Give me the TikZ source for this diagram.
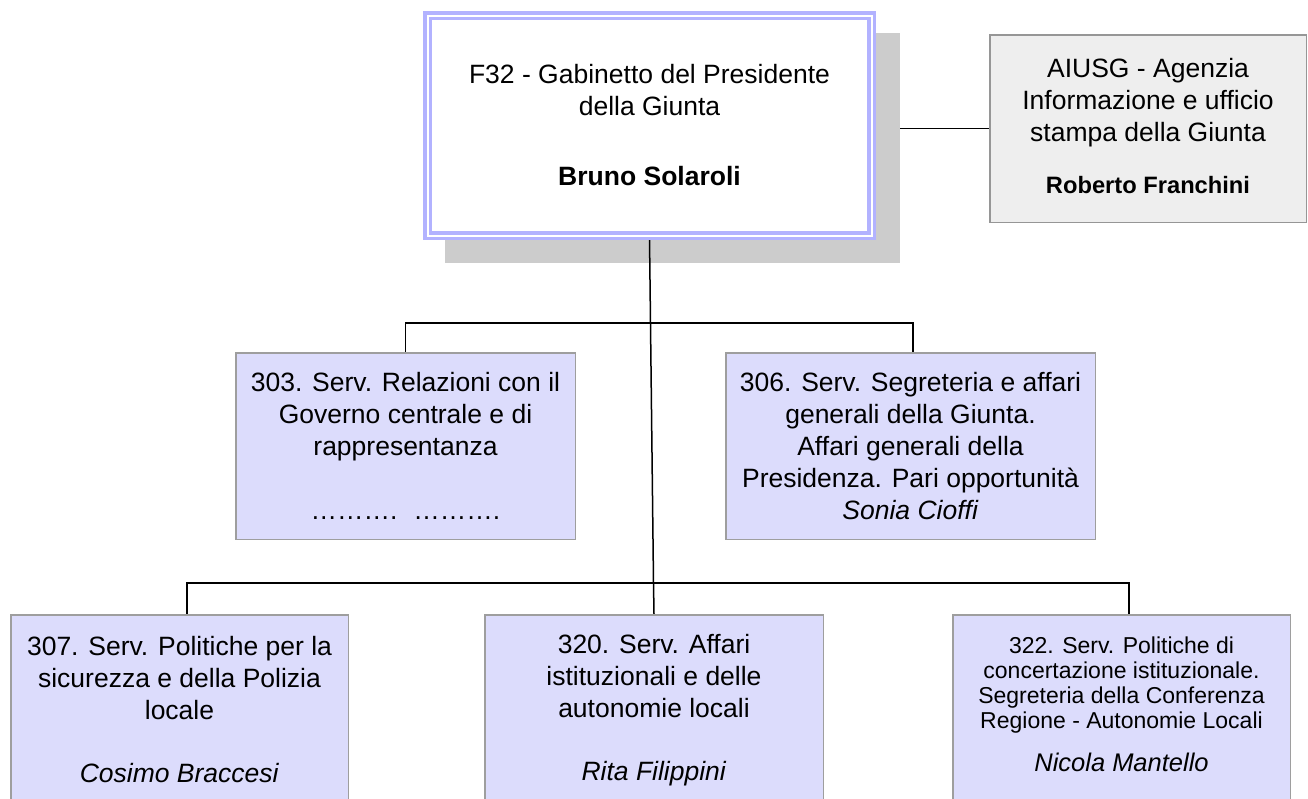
\documentclass[tikz,border=0pt]{standalone}
\usepackage{fontspec}
\setmainfont{Liberation Sans}
\definecolor{svcfill}{RGB}{220,220,252}
\definecolor{svcdraw}{RGB}{158,158,158}
\definecolor{topdraw}{RGB}{178,178,255}
\definecolor{shadowgray}{RGB}{204,204,204}
\definecolor{agfill}{RGB}{238,238,238}
\definecolor{agdraw}{RGB}{150,150,150}
\pgfdeclarelayer{shadowlayer}
\pgfdeclarelayer{wirelayer}
\pgfsetlayers{shadowlayer,wirelayer,main}
\begin{document}
\begin{tikzpicture}[x=1pt,y=-1pt,
  txt/.style={align=center, inner sep=0pt, font=\fontsize{26.5pt}{32pt}\selectfont},
  svc/.style={txt, draw=svcdraw, fill=svcfill, line width=1.5pt},
  wire/.style={draw=black, line width=1.5pt},
]
\useasboundingbox (0,0) rectangle (1308,798);
\begin{pgfonlayer}{shadowlayer}
\node[fill=shadowgray, inner sep=0pt, minimum width=455pt, minimum height=230pt] (shadow) at (672.5,148) {};
\end{pgfonlayer}

\node[txt, draw=topdraw, double=white, double distance=2pt, line width=3.5pt, fill=white,
      minimum width=444pt, minimum height=220pt] (top) at (649.5,125.5)
  {F32 - Gabinetto del Presidente\\della Giunta\\[38pt]\textbf{Bruno Solaroli}};

\node[txt, draw=agdraw, fill=agfill, line width=1.5pt, text depth=6pt,
      minimum width=316.5pt, minimum height=187.5pt] (agency) at (1148,128.5)
  {AIUSG - Agenzia\\Informazione e ufficio\\stampa della Giunta\\[20pt]{\fontsize{23.7pt}{28pt}\selectfont\bfseries Roberto Franchini}};

\node[svc, minimum width=339.5pt, minimum height=186.5pt] (b303) at (405.5,446)
  {303. Serv. Relazioni con il\\Governo centrale e di\\rappresentanza\\[32pt]……….\hspace{16pt}……….};

\node[svc, minimum width=369.5pt, minimum height=186.5pt] (b306) at (910.5,446)
  {306. Serv. Segreteria e affari\\generali della Giunta.\\Affari generali della\\Presidenza. Pari opportunità\\\textit{Sonia Cioffi}};

\node[svc, minimum width=337.5pt, minimum height=190pt] (b307) at (179.5,710)
  {307. Serv. Politiche per la\\sicurezza e della Polizia\\locale\\[31pt]\textit{Cosimo Braccesi}};

\node[svc, minimum width=338.5pt, minimum height=190pt] (b320) at (654,710)
  {320. Serv. Affari\\istituzionali e delle\\autonomie locali\\[31pt]\textit{Rita Filippini}};

\node[svc, minimum width=337.5pt, minimum height=190pt, text depth=12pt,
      font=\fontsize{23pt}{25pt}\selectfont] (b322) at (1121.5,710)
  {322. Serv. Politiche di\\concertazione istituzionale.\\Segreteria della Conferenza\\Regione - Autonomie Locali\\[18pt]{\fontsize{25.5pt}{30pt}\selectfont\itshape Nicola Mantello}};

\coordinate (bus1) at (0,323);
\coordinate (bus2) at (0,583);
\coordinate (trunk) at (653.5,583);
\coordinate (p303) at (b303.north);
\coordinate (p306) at ([xshift=2.5pt]b306.north);
\coordinate (p307) at ([xshift=7.5pt]b307.north);
\coordinate (p322) at ([xshift=7.5pt]b322.north);

\begin{pgfonlayer}{wirelayer}
\draw[wire] (top.south) -- (trunk) -- (b320.north);
\draw[wire] (p303) -- (p303 |- bus1) -- (p306 |- bus1) -- (p306);
\draw[wire] (p307) -- (p307 |- bus2) -- (p322 |- bus2) -- (p322);
\draw[wire] (agency.west) -- (agency.west -| shadow.east);
\end{pgfonlayer}
\end{tikzpicture}
\end{document}
